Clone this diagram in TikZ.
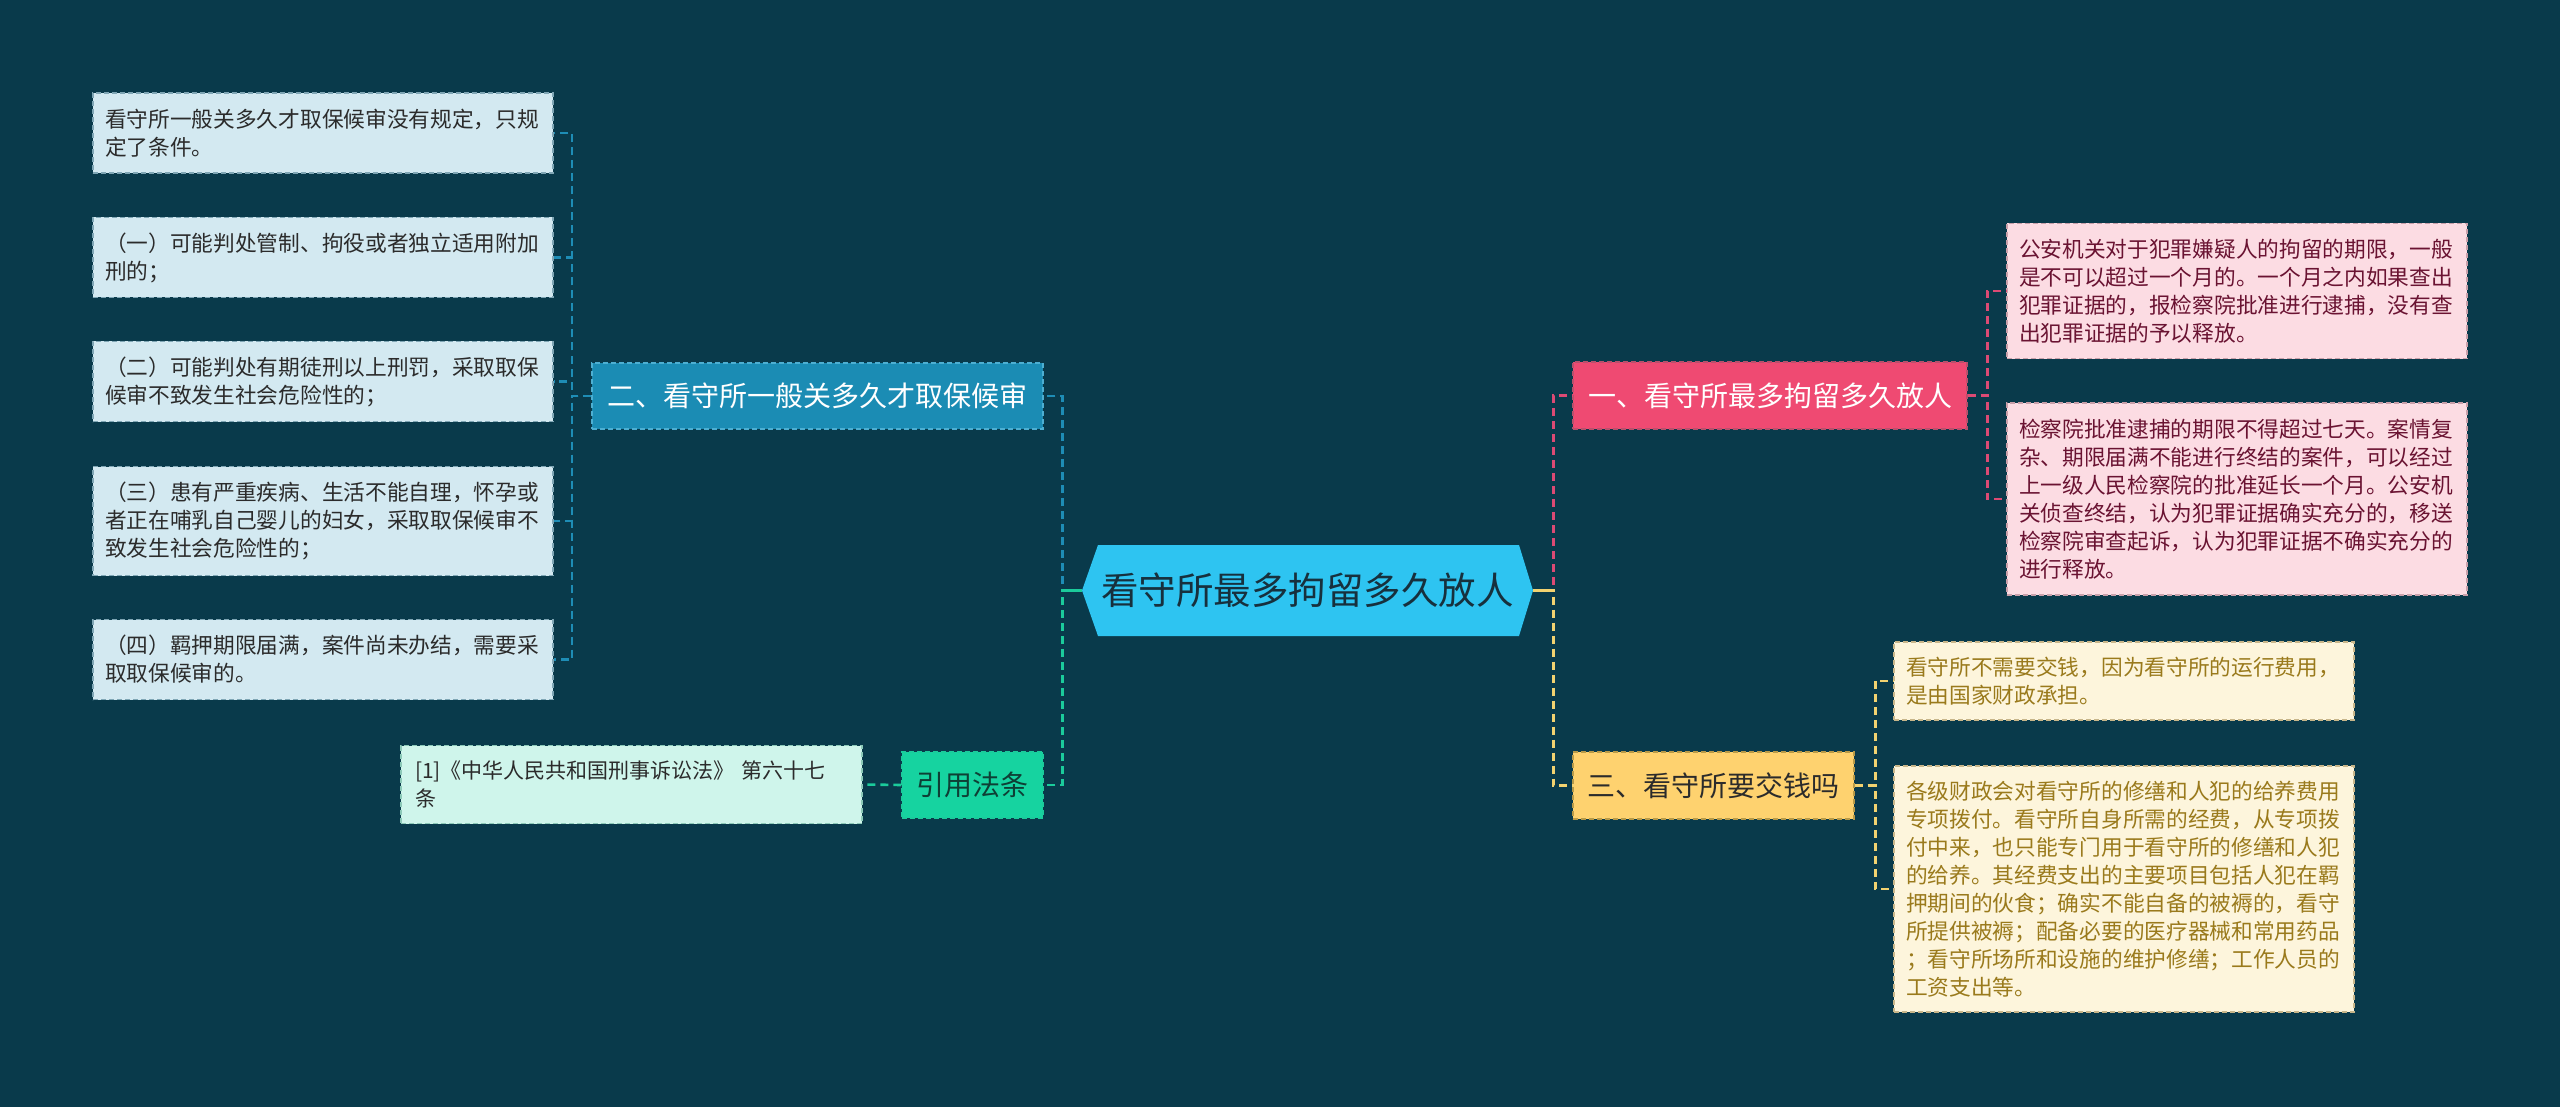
\documentclass[tikz,border=0pt]{standalone}
\usepackage{fontspec}
\newfontfamily\cjk{Noto Sans CJK SC}
\usetikzlibrary{calc}
\definecolor{bgc}{HTML}{093A4B}
\definecolor{cenfill}{HTML}{2EC4F1}
\definecolor{centext}{HTML}{17303D}
\definecolor{bluefill}{HTML}{1B8CB4}
\definecolor{blueline}{HTML}{1E8DB6}
\definecolor{blueborder}{HTML}{4DAFD2}
\definecolor{greenfill}{HTML}{16D3A0}
\definecolor{greenline}{HTML}{1BCB9B}
\definecolor{greentext}{HTML}{0E3F35}
\definecolor{pinkfill}{HTML}{EF4A72}
\definecolor{pinkline}{HTML}{DC4A74}
\definecolor{pinkborder}{HTML}{B8506C}
\definecolor{yelfill}{HTML}{FED26F}
\definecolor{yelline}{HTML}{F2D270}
\definecolor{yelborder}{HTML}{B89A48}
\definecolor{lbfill}{HTML}{D3E9F1}
\definecolor{lbborder}{HTML}{7FA6B5}
\definecolor{mintfill}{HTML}{CFF5EB}
\definecolor{mintborder}{HTML}{8CC9B8}
\definecolor{lpfill}{HTML}{FCDCE3}
\definecolor{lpborder}{HTML}{C9A0AA}
\definecolor{lptext}{HTML}{6A1332}
\definecolor{lyfill}{HTML}{FDF5DC}
\definecolor{lyborder}{HTML}{C8B68A}
\definecolor{lytext}{HTML}{9A7A1C}
\definecolor{darktext}{HTML}{2B2B2B}
\tikzset{
  boxdash/.style={dash pattern=on 5pt off 3pt, line width=1.4pt},
  leafbox/.style={boxdash, align=left, text width=436pt, inner xsep=12pt, inner ysep=2pt,
    minimum width=460pt, font=\cjk\fontsize{21.7}{28}\selectfont},
  leafL/.style={leafbox, draw=lbborder, fill=lbfill, text=darktext},
  leafP/.style={leafbox, draw=lpborder, fill=lpfill, text=lptext},
  leafY/.style={leafbox, draw=lyborder, fill=lyfill, text=lytext},
  refbox/.style={boxdash, draw=mintborder, fill=mintfill, text=darktext, align=left,
    text width=433pt, inner xsep=14pt, inner ysep=2pt, minimum width=461pt,
    font=\cjk\fontsize{21}{28}\selectfont},
  branch/.style={boxdash, align=center, inner sep=0pt, minimum height=66pt,
    font=\cjk\fontsize{28}{34}\selectfont},
  conn/.style={line width=2.6pt, dash pattern=on 8pt off 5pt},
  connB/.style={conn, draw=blueline},
  connG/.style={conn, draw=greenline},
  connP/.style={conn, draw=pinkline},
  connY/.style={conn, draw=yelline},
}
\begin{document}
\begin{tikzpicture}[x=1pt,y=-1pt]
\fill[bgc] (0,0) rectangle (2560,1107);
\useasboundingbox (0,0) rectangle (2560,1107);

% central node
\node[inner sep=0pt, minimum width=451pt, minimum height=91pt, text=centext,
  font=\cjk\fontsize{37.5}{45}\selectfont,
  path picture={\fill[cenfill] (path picture bounding box.west)
     -- ([xshift=16pt]path picture bounding box.north west)
     -- ([xshift=-14pt]path picture bounding box.north east)
     -- (path picture bounding box.east)
     -- ([xshift=-14pt]path picture bounding box.south east)
     -- ([xshift=16pt]path picture bounding box.south west) -- cycle;}]
  (c) at (1307.5,590.5) {看守所最多拘留多久放人};

% branch nodes
\node[branch, draw=blueborder, fill=bluefill, text=white, minimum width=451pt] (b2) at (817.5,396) {二、看守所一般关多久才取保候审};
\node[branch, draw=greenline, fill=greenfill, text=greentext, minimum width=141pt] (b4) at (972.5,785) {引用法条};
\node[branch, draw=pinkborder, fill=pinkfill, text=white, minimum width=394pt, minimum height=67pt] (b1) at (1770,395.5) {一、看守所最多拘留多久放人};
\node[branch, draw=yelborder, fill=yelfill, text=darktext, minimum width=281pt, minimum height=67pt] (b3) at (1713.5,785.5) {三、看守所要交钱吗};

% left leaves
\node[leafL, minimum height=80pt] (l1) at (323,133) {看守所一般关多久才取保候审没有规定，只规\\定了条件。};
\node[leafL, minimum height=80pt] (l2) at (323,257.5) {（一）可能判处管制、拘役或者独立适用附加\\刑的；};
\node[leafL, minimum height=80pt] (l3) at (323,381.5) {（二）可能判处有期徒刑以上刑罚，采取取保\\候审不致发生社会危险性的；};
\node[leafL, minimum height=109pt] (l4) at (323,521) {（三）患有严重疾病、生活不能自理，怀孕或\\者正在哺乳自己婴儿的妇女，采取取保候审不\\致发生社会危险性的；};
\node[leafL, minimum height=80pt] (l5) at (323,659.5) {（四）羁押期限届满，案件尚未办结，需要采\\取取保候审的。};

% reference
\node[refbox, minimum height=78pt] (ref) at (631.5,784.5) {[1]《中华人民共和国刑事诉讼法》 第六十七\\条};

% pink leaves
\node[leafP, minimum height=135pt] (p1) at (2237,291) {公安机关对于犯罪嫌疑人的拘留的期限，一般\\是不可以超过一个月的。一个月之内如果查出\\犯罪证据的，报检察院批准进行逮捕，没有查\\出犯罪证据的予以释放。};
\node[leafP, minimum height=192pt] (p2) at (2237,499) {检察院批准逮捕的期限不得超过七天。案情复\\杂、期限届满不能进行终结的案件，可以经过\\上一级人民检察院的批准延长一个月。公安机\\关侦查终结，认为犯罪证据确实充分的，移送\\检察院审查起诉，认为犯罪证据不确实充分的\\进行释放。};

% yellow leaves
\node[leafY, minimum height=78pt] (y1) at (2124,681) {看守所不需要交钱，因为看守所的运行费用，\\是由国家财政承担。};
\node[leafY, minimum height=246pt] (y2) at (2124,889) {各级财政会对看守所的修缮和人犯的给养费用\\专项拨付。看守所自身所需的经费，从专项拨\\付中来，也只能专门用于看守所的修缮和人犯\\的给养。其经费支出的主要项目包括人犯在羁\\押期间的伙食；确实不能自备的被褥的，看守\\所提供被褥；配备必要的医疗器械和常用药品\\；看守所场所和设施的维护修缮；工作人员的\\工资支出等。};

% connectors from central node
\draw[connB] (c.west) -- ++(-19.5,0) |- (b2.east);
\draw[connG] (c.west) -- ++(-19.5,0) |- (b4.east);
\draw[line width=2.6pt, greenline] (c.west) -- ++(-19.5,0);
\draw[connP] (c.east) -- ++(20,0) |- (b1.west);
\draw[connY] (c.east) -- ++(20,0) |- (b3.west);
\draw[line width=2.6pt, yelline] (c.east) -- ++(20,0);

% branch two -> left leaves
\foreach \n in {l1,l2,l3,l4,l5}
  \draw[connB] (b2.west) -- ++(-19.5,0) |- (\n.east);
% citation
\draw[connG] (b4.west) -- (ref.east);
% branch one -> pink leaves
\foreach \n in {p1,p2}
  \draw[connP] (b1.east) -- ++(19.5,0) |- (\n.west);
% branch three -> yellow leaves
\foreach \n in {y1,y2}
  \draw[connY] (b3.east) -- ++(20.5,0) |- (\n.west);
\end{tikzpicture}
\end{document}
